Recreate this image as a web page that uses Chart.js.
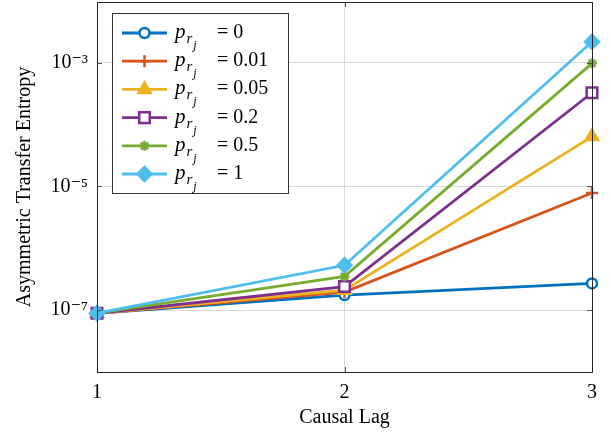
<!DOCTYPE html>
<html>
<head>
<meta charset="utf-8">
<script src="https://cdn.jsdelivr.net/npm/chart.js@4.4.1/dist/chart.umd.min.js"></script>
<style>
  html, body { margin: 0; padding: 0; background: #fff; }
  #wrap { width: 611px; height: 433px; }
</style>
</head>
<body>
<div id="wrap"><canvas id="myChart" width="611" height="433"></canvas></div>
<script>
// causal lag on the x axis
var lags = [1, 2, 3];
// asymmetric transfer entropy for each p_rj
var te_p0    = [8.9e-8, 1.75e-7, 2.7e-7];
var te_p001  = [8.9e-8, 1.95e-7, 7.8e-6];
var te_p005  = [8.9e-8, 2.1e-7,  6.35e-5];
var te_p02   = [8.9e-8, 2.4e-7,  3.25e-4];
var te_p05   = [8.9e-8, 3.5e-7,  9.7e-4];
var te_p1    = [8.9e-8, 5.3e-7,  2.16e-3];
var pValues  = ['0', '0.01', '0.05', '0.2', '0.5', '1'];
var yTicks   = [1e-7, 1e-5, 1e-3];
var yTickLabels = ['10\u207B\u2077', '10\u207B\u2075', '10\u207B\u00B3'];

var serif = '"Liberation Serif", "DejaVu Serif", serif';

function pts(vals) {
  return vals.map(function(v, i){ return {x: lags[i], y: v}; });
}

var styles = [
  {color: '#0072BD', point: 'circle',   r: 5,   fill: '#ffffff'},
  {color: '#D95319', point: 'cross',    r: 6,   fill: '#D95319'},
  {color: '#EDB120', point: 'triangle', r: 7,   fill: '#EDB120'},
  {color: '#7E2F8E', point: 'rect',     r: 7.5, fill: '#ffffff'},
  {color: '#77AC30', point: 'star',     r: 5,   fill: '#77AC30'},
  {color: '#4DBEEE', point: 'rectRot',  r: 7,   fill: '#4DBEEE'}
];
var series = [te_p0, te_p001, te_p005, te_p02, te_p05, te_p1];

var datasets = series.map(function(s, i){
  var st = styles[i];
  return {
    label: 'p_rj = ' + pValues[i],
    data: pts(s),
    borderColor: st.color,
    backgroundColor: st.fill,
    borderWidth: 2.8,
    pointStyle: st.point,
    pointRadius: st.r,
    pointBorderWidth: 2.5,
    pointBorderColor: st.color,
    pointBackgroundColor: st.fill,
    tension: 0,
    clip: false,
    order: 5 - i
  };
});

// frame, inward tick marks and the legend
var decorPlugin = {
  id: 'decor',
  afterDatasetsDraw: function(chart) {
    var ctx = chart.ctx, a = chart.chartArea;
    var xs = chart.scales.x, ys = chart.scales.y;
    ctx.save();
    // inward ticks
    ctx.strokeStyle = '#555';
    ctx.lineWidth = 1;
    ctx.beginPath();
    lags.forEach(function(v){
      var px = Math.round(xs.getPixelForValue(v)) + 0.5;
      ctx.moveTo(px, a.bottom); ctx.lineTo(px, a.bottom - 5);
      ctx.moveTo(px, a.top); ctx.lineTo(px, a.top + 5);
    });
    yTicks.forEach(function(v){
      var py = Math.round(ys.getPixelForValue(v)) + 0.5;
      ctx.moveTo(a.left, py); ctx.lineTo(a.left + 5, py);
      ctx.moveTo(a.right, py); ctx.lineTo(a.right - 5, py);
    });
    ctx.stroke();
    // frame
    ctx.strokeStyle = '#262626';
    ctx.strokeRect(Math.round(a.left) + 0.5, Math.round(a.top) + 0.5,
                   Math.round(a.right - a.left), Math.round(a.bottom - a.top));

    // legend
    var bx = a.left + 15, by = a.top + 11, bw = 176, bh = 180;
    ctx.fillStyle = '#fff';
    ctx.fillRect(bx, by, bw, bh);
    ctx.strokeStyle = '#333';
    ctx.strokeRect(Math.round(bx) + 0.5, Math.round(by) + 0.5, bw, bh);
    datasets.forEach(function(ds, i){
      var cy = by + 20 + i * 28.2;
      var x0 = bx + 10, x1 = bx + 55;
      ctx.strokeStyle = ds.borderColor;
      ctx.lineWidth = 2.8;
      ctx.beginPath();
      ctx.moveTo(x0, cy); ctx.lineTo(x1, cy);
      ctx.stroke();
      ctx.fillStyle = ds.pointBackgroundColor;
      ctx.strokeStyle = ds.pointBorderColor;
      ctx.lineWidth = 2.5;
      Chart.helpers.drawPoint(ctx, {pointStyle: ds.pointStyle, radius: ds.pointRadius, rotation: 0, borderWidth: 2.5}, (x0 + x1) / 2, cy);
      // text: p_{r_j} = value
      var tx = bx + 63, base = cy + 5;
      ctx.fillStyle = '#000';
      ctx.textBaseline = 'alphabetic';
      ctx.textAlign = 'left';
      ctx.font = 'italic 21px ' + serif;
      ctx.fillText('p', tx, base);
      tx += ctx.measureText('p').width + 1;
      ctx.font = 'italic 15px ' + serif;
      ctx.fillText('r', tx, base + 5);
      tx += ctx.measureText('r').width + 1;
      ctx.font = 'italic 12px ' + serif;
      ctx.fillText('j', tx, base + 11);
      tx = bx + 105;
      ctx.font = '20px ' + serif;
      ctx.fillText('= ' + pValues[i], tx, base);
    });
    ctx.restore();
  }
};

var ctx = document.getElementById('myChart').getContext('2d');
var chart = new Chart(ctx, {
  type: 'line',
  data: { datasets: datasets },
  options: {
    responsive: false,
    animation: false,
    layout: { autoPadding: false, padding: { left: 13, right: 19, top: 2, bottom: 3 } },
    plugins: { legend: { display: false }, tooltip: { enabled: false } },
    scales: {
      x: {
        type: 'linear',
        min: 1, max: 3,
        afterBuildTicks: function(scale){ scale.ticks = lags.map(function(v){ return {value: v}; }); },
        afterFit: function(scale){ scale.height = 58; scale.paddingLeft = 0; scale.paddingRight = 0; },
        grid: { color: '#d9d9d9', drawTicks: false },
        border: { display: false },
        ticks: { padding: 9, color: '#000', font: { family: serif, size: 20 },
                  callback: function(v){ return String(v); } },
        title: { display: true, text: 'Causal Lag', color: '#000', padding: 0,
                 font: { family: serif, size: 20 } }
      },
      y: {
        type: 'logarithmic',
        min: 1e-8, max: 9.5e-3,
        afterBuildTicks: function(scale){ scale.ticks = yTicks.map(function(v){ return {value: v}; }); },
        afterFit: function(scale){ scale.width = 84; scale.paddingTop = 0; scale.paddingBottom = 0; },
        grid: { color: '#d9d9d9', drawTicks: false },
        border: { display: false },
        ticks: { padding: 9, color: '#000', font: { family: serif, size: 20 },
                  callback: function(v){ var k = yTicks.indexOf(v); return k >= 0 ? yTickLabels[k] : ''; } },
        title: { display: true, text: 'Asymmetric Transfer Entropy', color: '#000', padding: 0,
                 font: { family: serif, size: 20 } }
      }
    }
  },
  plugins: [decorPlugin]
});
</script>
</body>
</html>
